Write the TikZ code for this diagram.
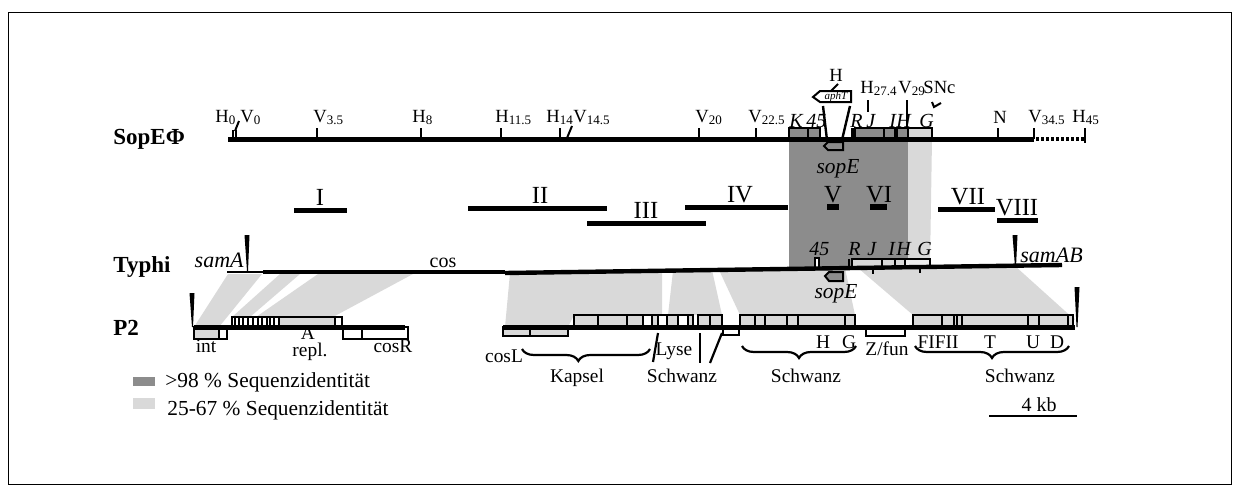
\documentclass[tikz,border=0pt]{standalone}
\usepackage{fontspec}
\setmainfont{Liberation Serif}
\usetikzlibrary{decorations.pathreplacing}
\definecolor{dk}{RGB}{140,140,140}
\definecolor{lt}{RGB}{217,217,217}
\begin{document}
\begin{tikzpicture}[x=0.5pt,y=-0.5pt,
  lab/.style={inner sep=0pt,font=\fontsize{9.3}{10}\selectfont},
  glab/.style={inner sep=0pt,font=\fontsize{10}{11}\selectfont\itshape},
  rom/.style={inner sep=0pt,font=\fontsize{12.3}{13}\selectfont},
  nm/.style={inner sep=0pt,font=\fontsize{11.5}{13}\selectfont\bfseries},
  plab/.style={inner sep=0pt,font=\fontsize{9.7}{10}\selectfont},
  leg/.style={inner sep=0pt,font=\fontsize{10.7}{12}\selectfont},
  mainline/.style={line width=2.5pt},
  tick/.style={line width=1pt},
  bar/.style={line width=2.5pt},
  gbox/.style={draw=black,line width=0.9pt},
  brc/.style={decorate,decoration={brace,mirror,amplitude=6pt},line width=1.1pt},
  wedge/.style={fill=black},
]
\useasboundingbox (0,0) rectangle (1242,487);
\draw[line width=0.5pt] (8,12) rectangle (1231,484);

% similarity regions
\fill[dk] (789,139) -- (908,139) -- (908,267) -- (789,269) -- cycle;
\fill[lt] (908,139) -- (932,139) -- (930,266) -- (908,267) -- cycle;
\fill[lt] (228,274) -- (262,274) -- (219,327) -- (194,327) -- cycle;
\fill[lt] (280,274) -- (300,274) -- (250,317) -- (232,317) -- cycle;
\fill[lt] (318,274) -- (413,274) -- (333,317) -- (256,317) -- cycle;
\fill[lt] (510,273) -- (662,271) -- (662,315) -- (574,315) -- (568,327) -- (505,327) -- cycle;
\fill[lt] (673,271) -- (712,270) -- (722,315) -- (668,315) -- cycle;
\fill[lt] (719,270) -- (845,268) -- (855,315) -- (740,315) -- cycle;
\fill[lt] (858,268) -- (1015,266) -- (1075,320) -- (1073,315) -- (913,315) -- cycle;

% ---------- SopE Phi ----------
\node[nm,anchor=west] (nSop) at (113,139) {SopEΦ};
\filldraw[gbox,fill=dk] (789,128) rectangle (808,139);
\filldraw[gbox,fill=dk] (808,128) rectangle (820,139);
\foreach \a/\b in {855/884,884/895,895/897,897/908}
  \filldraw[gbox,fill=dk] (\a,128) rectangle (\b,139);
\filldraw[gbox,fill=lt] (908,128) rectangle (932,139);
\draw[line width=1.5pt] (852,128) -- (852,139);
\draw[mainline] (228,139) -- (1034,139);
\draw[line width=2pt,dash pattern=on 1.5pt off 1pt] (1036,139) -- (1085,139);
\foreach \x in {317,421,501,560,699,756,998,1034}
  \draw[tick] (\x,128) -- (\x,139);
\draw[tick] (233,130) -- (233,139);
\draw[tick] (236,130) -- (236,139);
\draw[tick] (239,121) -- (235,131);
\draw[tick] (572,126) -- (567,138);
\draw[tick] (1085,128) -- (1085,143);
\draw[tick] (868,100) -- (868,112);
\draw[tick] (907,100) -- (907,128);
\draw[line width=1pt] (932,102) -- (934,107) -- (941,103);

\node[lab,anchor=base west] (h0) at (215,122) {H\textsubscript{0}};
\node[lab,anchor=base west] (v0) at (240,122) {V\textsubscript{0}};
\node[lab,anchor=base west] (v35) at (313,122) {V\textsubscript{3.5}};
\node[lab,anchor=base west] (h8) at (412,122) {H\textsubscript{8}};
\node[lab,anchor=base west] (h115) at (495,122) {H\textsubscript{11.5}};
\node[lab,anchor=base west] (h14) at (546,122) {H\textsubscript{14}};
\node[lab,anchor=base west] (v145) at (573,122) {V\textsubscript{14.5}};
\node[lab,anchor=base west] (v20) at (695,122) {V\textsubscript{20}};
\node[lab,anchor=base west] (v225) at (748,122) {V\textsubscript{22.5}};
\node[lab,anchor=base west] (nN) at (993,123) {N};
\node[lab,anchor=base west] (v345) at (1028,122) {V\textsubscript{34.5}};
\node[lab,anchor=base west] (h45) at (1072,122) {H\textsubscript{45}};
\node[lab,anchor=base west] (h274) at (860,93) {H\textsubscript{27.4}};
\node[lab,anchor=base west] (v29) at (898,93) {V\textsubscript{29}};
\node[lab,anchor=base west] (snc) at (923,93) {SNc};
\node[lab,anchor=base] (hAph) at (836,81) {H};

\node[glab,anchor=base west] (gK) at (789,127) {K};
\node[glab,anchor=base west] (g45) at (806,127) {45};
\node[glab,anchor=base west] (gR) at (850,127) {R};
\node[glab,anchor=base west] (gJ) at (866,127) {J};
\node[glab,anchor=base west] (gI) at (889,127) {I};
\node[glab,anchor=base west] (gH) at (896,127) {H};
\node[glab,anchor=base west] (gG) at (919,127) {G};

% aph insertion
\filldraw[fill=white,line width=1pt] (813,97) -- (820,91) -- (851,91) -- (851,102) -- (820,102) -- cycle;
\node[inner sep=0pt,font=\fontsize{5.5}{6}\selectfont\itshape] (aph) at (836,97) {aphT};
\draw[tick] (838,84) -- (831,91);
\draw[line width=1.2pt] (823,106) -- (827,140);
\draw[line width=1.2pt] (850,106) -- (842,140);
\filldraw[fill=dk,line width=1pt] (824,146) -- (828,142) -- (843,142) -- (843,150) -- (828,150) -- cycle;
\node[inner sep=0pt,font=\fontsize{10.7}{12}\selectfont\itshape,anchor=base] (sopE1) at (838,173) {sopE};

% ---------- Roman numeral fragments ----------
\draw[bar] (294,210) -- (347,210);
\draw[bar] (468,208) -- (607,208);
\draw[bar] (587,223) -- (706,223);
\draw[bar] (685,207) -- (788,207);
\draw[line width=3pt] (827,207) -- (839,207);
\draw[line width=3pt] (870,207) -- (887,207);
\draw[bar] (938,209) -- (995,209);
\draw[bar] (997,220) -- (1038,220);
\node[rom,anchor=base] (r1) at (320,205) {I};
\node[rom,anchor=base] (r2) at (540,203) {II};
\node[rom,anchor=base] (r3) at (646,218) {III};
\node[rom,anchor=base] (r4) at (740,202) {IV};
\node[rom,anchor=base] (r5) at (833,202) {V};
\node[rom,anchor=base] (r6) at (879,202) {VI};
\node[rom,anchor=base] (r7) at (968,204) {VII};
\node[rom,anchor=base] (r8) at (1017,215) {VIII};

% ---------- Typhi ----------
\node[nm,anchor=west] (nTy) at (113,267) {Typhi};
\foreach \a/\b in {852/882,882/895,895/905}
  \filldraw[gbox,fill=lt] (\a,259) rectangle (\b,267);
\filldraw[gbox,fill=lt!50] (905,259) rectangle (930,266);
\draw[line width=1.2pt] (849,259) -- (849,268);
\filldraw[gbox,fill=white] (815,258) rectangle (819,268);
\draw[tick] (873,266) -- (873,274);
\draw[tick] (920,265) -- (920,273);
\draw[line width=1.2pt] (227,272) -- (263,272);
\draw[line width=2.2pt] (263,272) -- (505,272);
\draw[line width=2.2pt] (505,273) -- (1062,265);
\filldraw[fill=dk,line width=1pt] (825,276) -- (829,272) -- (843,272) -- (843,281) -- (829,281) -- cycle;
\fill[wedge] (244.5,235) -- (249.5,235) -- (248,271) -- (247,271) -- cycle;
\fill[wedge] (1012.5,235) -- (1017.5,235) -- (1016,267) -- (1015,267) -- cycle;
\node[inner sep=0pt,anchor=base east,font=\fontsize{11}{12}\selectfont\itshape] (samA) at (244,267) {samA};
\node[inner sep=0pt,anchor=base west,font=\fontsize{11}{12}\selectfont\itshape] (samAB) at (1020,262) {samAB};
\node[inner sep=0pt,anchor=base,font=\fontsize{10}{11}\selectfont] (cos) at (443,267) {cos};
\node[glab,anchor=base west] (t45) at (809,255) {45};
\node[glab,anchor=base west] (tR) at (848,255) {R};
\node[glab,anchor=base west] (tJ) at (867,255) {J};
\node[glab,anchor=base west] (tI) at (888,255) {I};
\node[glab,anchor=base west] (tH) at (896,255) {H};
\node[glab,anchor=base west] (tG) at (917,255) {G};
\node[inner sep=0pt,font=\fontsize{10.7}{12}\selectfont\itshape,anchor=base] (sopE2) at (836,298) {sopE};

% ---------- P2 ----------
\node[nm,anchor=west] (nP2) at (113,328) {P2};
% boxes below line
\filldraw[gbox,fill=lt] (194,327) rectangle (219,339);
\filldraw[gbox,fill=white] (219,327) rectangle (227,339);
\filldraw[gbox,fill=white] (343,327) rectangle (362,339);
\filldraw[gbox,fill=white] (362,327) rectangle (408,339);
\filldraw[gbox,fill=lt] (503,327) rectangle (530,336);
\filldraw[gbox,fill=lt] (530,327) rectangle (568,336);
\filldraw[gbox,fill=white] (723,327) rectangle (739,335);
\filldraw[gbox,fill=white] (866,327) rectangle (905,336);
% boxes above line
\filldraw[gbox,fill=white] (232,317) rectangle (342,327);
\filldraw[gbox,fill=lt] (279,317) rectangle (335,327);
\foreach \x in {235,239,243,248,253,258,262,267,270,274}
  \draw[gbox] (\x,317) -- (\x,327);
\foreach \a/\b/\c in {574/598/lt,598/627/lt,627/643/lt,643/652/white,652/658/lt,658/667/white,667/678/lt,678/688/white,688/693/lt,698/710/lt,710/722/lt,740/755/lt,755/765/lt,765/787/lt,787/798/lt,798/845/lt,845/855/lt,913/942/lt,942/954/lt,954/957/lt,957/962/lt,962/1028/lt,1028/1039/lt,1039/1068/lt,1068/1073/lt}
  \filldraw[gbox,fill=\c] (\a,315) rectangle (\b,327);
\draw[mainline] (194,327) -- (405,327);
\draw[mainline] (503,327) -- (1075,327);
\fill[wedge] (189.5,293) -- (194.5,293) -- (193,327) -- (192,327) -- cycle;
\fill[wedge] (1074.5,287) -- (1079.5,287) -- (1077.5,327) -- (1076.5,327) -- cycle;

\node[plab,anchor=base] (lint) at (206,352) {int};
\node[plab,anchor=base] (lA) at (308,339) {A};
\node[plab,anchor=base] (lrepl) at (310,356) {repl.};
\node[plab,anchor=base] (lcosR) at (393,352) {cosR};
\node[plab,anchor=base] (lcosL) at (504,362) {cosL};
\node[plab,anchor=base] (lH) at (823,348) {H};
\node[plab,anchor=base] (lG) at (849,348) {G};
\node[plab,anchor=base] (lZ) at (887,355) {Z/fun};
\node[plab,anchor=base] (lF) at (938,348) {FIFII};
\node[plab,anchor=base] (lT) at (990,348) {T};
\node[plab,anchor=base] (lU) at (1033,348) {U};
\node[plab,anchor=base] (lD) at (1057,348) {D};
\node[plab,anchor=base] (lLyse) at (674,355) {Lyse};

\draw[line width=1.1pt] (658,333) -- (653,362);
\draw[line width=1.1pt] (700,333) -- (700,363);
\draw[line width=1.1pt] (722,333) -- (710,363);
\draw[brc,decoration={aspect=0.44}] (522,349) -- (650,349);
\draw[brc] (742,346) -- (856,346);
\draw[brc] (915,346) -- (1069,346);
\node[plab,anchor=base] (lKap) at (577,382) {Kapsel};
\node[plab,anchor=base] (lS1) at (682,382) {Schwanz};
\node[plab,anchor=base] (lS2) at (806,382) {Schwanz};
\node[plab,anchor=base] (lS3) at (1020,382) {Schwanz};

% ---------- legend and scale ----------
\fill[dk] (133,377) rectangle (155,386);
\fill[lt] (133,398) rectangle (155,409);
\node[leg,anchor=base west] (leg1) at (165,387) {>98 \% Sequenzidentität};
\node[leg,anchor=base west] (leg2) at (167,415) {25-67 \% Sequenzidentität};
\draw[line width=1pt] (989,416) -- (1077,416);
\node[inner sep=0pt,anchor=base,font=\fontsize{10}{11}\selectfont] (kb) at (1039,411) {4 kb};
\end{tikzpicture}
\end{document}
